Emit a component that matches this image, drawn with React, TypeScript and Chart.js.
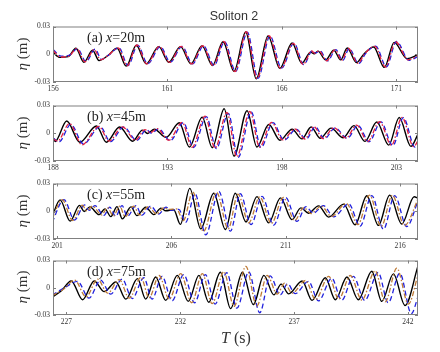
import React, { useEffect, useRef } from 'react';
import { Chart, registerables } from 'chart.js';
Chart.register(...registerables);

type Pt = [number, number];

const yTicks = [-0.03, 0, 0.03];

// Panel (a) x = 20 m
const aRange = [156, 171.95];
const aTicks = [156, 161, 166, 171];
const aBlack: Pt[] = [[156.0,0.002],[156.3,-0.0034],[156.67,-0.0026],[157.0,0.0065],[157.35,-0.0086],[157.73,0.0044],[158.01,-0.0068],[158.39,-0.0016],[158.8,0.0065],[159.2,-0.0128],[159.64,0.0097],[160.07,-0.0103],[160.62,0.0082],[161.06,-0.0086],[161.57,0.0082],[162.03,-0.0103],[162.51,0.009],[162.97,-0.0121],[163.43,0.0135],[163.91,-0.0184],[164.42,0.024],[164.88,-0.0265],[165.4,0.0198],[165.91,-0.0153],[166.45,0.0121],[166.87,-0.0097],[167.26,0.0023],[167.41,0.0005],[167.58,0.0034],[167.91,-0.0061],[168.27,0.0044],[168.57,-0.0061],[168.86,0.0068],[169.26,-0.009],[169.57,-0.0002],[170.01,0.0079],[170.48,-0.0142],[170.91,0.0128],[171.47,-0.0047],[171.95,-0.0005]];
const aRed: Pt[] = [[156.0,0.004],[156.33,-0.003],[156.7,-0.002],[157.03,0.0062],[157.4,-0.0082],[157.8,0.0052],[158.08,-0.006],[158.42,-0.001],[158.85,0.0068],[159.24,-0.0125],[159.67,0.01],[160.1,-0.0105],[160.65,0.0085],[161.09,-0.0088],[161.6,0.0085],[162.06,-0.0105],[162.54,0.0092],[163.0,-0.0124],[163.46,0.0138],[163.95,-0.0188],[164.45,0.0243],[164.92,-0.0262],[165.44,0.02],[165.95,-0.0155],[166.5,0.0118],[166.93,-0.011],[167.3,0.0035],[167.45,0.001],[167.62,0.0038],[167.96,-0.007],[168.32,0.0048],[168.62,-0.0066],[168.9,0.0065],[169.32,-0.0098],[169.62,0.0005],[170.06,0.0085],[170.53,-0.0138],[170.97,0.0135],[171.52,-0.006],[171.95,-0.0015]];
const aBlue: Pt[] = [[156.0,0.005],[156.36,-0.002],[156.72,-0.001],[157.07,0.006],[157.44,-0.008],[157.84,0.0055],[158.12,-0.0055],[158.45,-0.0005],[158.88,0.007],[159.28,-0.0122],[159.7,0.0098],[160.14,-0.0102],[160.69,0.0083],[161.13,-0.0085],[161.64,0.0085],[162.1,-0.0103],[162.58,0.009],[163.04,-0.012],[163.5,0.0135],[163.98,-0.0185],[164.49,0.0238],[164.96,-0.026],[165.48,0.0198],[165.99,-0.015],[166.53,0.012],[166.96,-0.0112],[167.33,0.0038],[167.48,0.0012],[167.66,0.004],[168.0,-0.0072],[168.36,0.005],[168.66,-0.0068],[168.94,0.0062],[169.36,-0.01],[169.66,0.0008],[170.1,0.0088],[170.57,-0.0135],[171.01,0.0138],[171.56,-0.0065],[171.95,-0.0025]];

// Panel (b) x = 45 m
const bRange = [188, 203.95];
const bTicks = [188, 193, 198, 203];
const bBlack: Pt[] = [[188.0,-0.004],[188.09,-0.009],[188.6,0.0132],[189.17,-0.0097],[189.9,0.0079],[190.33,-0.0097],[190.91,0.0068],[191.48,-0.0086],[191.91,0.0034],[192.13,-0.0002],[192.43,0.0044],[192.94,-0.0044],[193.52,0.0114],[193.96,-0.0149],[194.52,0.0174],[194.96,-0.0156],[195.48,0.0265],[195.91,-0.0247],[196.48,0.0244],[196.91,-0.0149],[197.43,0.0095],[197.92,-0.0075],[198.45,0.0044],[198.88,-0.0061],[199.28,0.0068],[199.68,-0.0054],[200.15,0.0055],[200.68,-0.0049],[201.15,0.0082],[201.63,-0.0088],[202.15,0.0121],[202.67,-0.0128],[203.13,0.017],[203.64,-0.0142],[203.95,-0.001]];
const bRed: Pt[] = [[188.0,-0.006],[188.2,-0.0085],[188.72,0.0105],[189.27,-0.0125],[190.0,0.0075],[190.45,-0.0085],[191.03,0.007],[191.6,-0.0075],[192.02,0.004],[192.25,0.0005],[192.55,0.005],[193.06,-0.0075],[193.64,0.0118],[194.08,-0.0152],[194.64,0.0185],[195.08,-0.016],[195.6,0.0225],[196.03,-0.0255],[196.6,0.0235],[197.03,-0.015],[197.55,0.0118],[198.04,-0.0072],[198.57,0.0048],[199.0,-0.0062],[199.4,0.0072],[199.8,-0.0058],[200.27,0.006],[200.8,-0.0052],[201.27,0.0088],[201.75,-0.009],[202.27,0.0125],[202.79,-0.013],[203.25,0.0172],[203.76,-0.0145],[203.95,-0.008]];
const bBlue: Pt[] = [[188.0,-0.005],[188.26,-0.0095],[188.78,0.0095],[189.33,-0.0115],[190.06,0.0072],[190.51,-0.009],[191.09,0.0068],[191.66,-0.0078],[192.08,0.0038],[192.31,0.0],[192.61,0.0048],[193.12,-0.008],[193.7,0.0115],[194.14,-0.0155],[194.7,0.018],[195.14,-0.0165],[195.66,0.0215],[196.09,-0.026],[196.66,0.023],[197.09,-0.0155],[197.61,0.0115],[198.1,-0.0075],[198.63,0.0045],[199.06,-0.0064],[199.46,0.007],[199.86,-0.006],[200.33,0.0058],[200.86,-0.0055],[201.33,0.0085],[201.81,-0.0092],[202.33,0.0122],[202.85,-0.0135],[203.31,0.0168],[203.82,-0.015],[203.95,-0.012]];

// Panel (c) x = 55 m
const cRange = [200.82, 216.78];
const cTicks = [201, 206, 211, 216];
const cBlack: Pt[] = [[200.77,-0.0065],[201.13,0.0123],[201.57,-0.0107],[201.98,0.0063],[202.18,-0.0002],[202.43,0.0047],[202.83,-0.0037],[203.09,0.0026],[203.35,-0.0058],[203.62,0.005],[203.85,-0.0082],[204.23,0.0047],[204.49,-0.0047],[204.87,0.0044],[205.23,-0.0037],[205.54,0.0034],[205.75,0.0005],[206.1,0.0016],[206.39,-0.0142],[206.8,0.0247],[207.28,-0.019],[207.85,0.0195],[208.36,-0.0198],[208.79,0.0195],[209.26,-0.0116],[209.74,0.0158],[210.25,-0.0126],[210.77,0.0145],[211.27,-0.009],[211.66,0.0037],[211.99,-0.0021],[212.43,0.0058],[212.87,-0.0063],[213.53,0.0077],[214.03,-0.0147],[214.54,0.0168],[215.05,-0.0153],[215.54,0.0174],[216.07,-0.0138],[216.61,0.0157],[216.78,0.0142]];
const cRed: Pt[] = [[200.78,-0.008],[201.22,0.0125],[201.68,-0.01],[202.1,0.0065],[202.3,0.0005],[202.55,0.0055],[202.95,-0.004],[203.2,0.004],[203.46,-0.005],[203.74,0.0055],[203.97,-0.006],[204.35,0.0055],[204.6,-0.004],[204.99,0.005],[205.35,-0.003],[205.66,0.004],[205.87,0.002],[206.22,0.0025],[206.52,-0.01],[206.93,0.021],[207.4,-0.022],[207.97,0.0205],[208.48,-0.019],[208.91,0.0185],[209.38,-0.0125],[209.86,0.0155],[210.37,-0.0132],[210.89,0.015],[211.39,-0.01],[211.78,0.004],[212.1,-0.0025],[212.55,0.0055],[212.99,-0.0055],[213.65,0.0085],[214.15,-0.0145],[214.66,0.0175],[215.17,-0.0165],[215.66,0.0172],[216.19,-0.0155],[216.78,0.013]];
const cBlue: Pt[] = [[200.78,-0.012],[201.3,0.0125],[201.76,-0.0095],[202.2,0.0068],[202.4,0.001],[202.65,0.006],[203.05,-0.0045],[203.3,0.0045],[203.56,-0.0055],[203.84,0.006],[204.07,-0.0055],[204.45,0.006],[204.7,-0.0045],[205.09,0.0055],[205.45,-0.003],[205.76,0.0045],[205.97,0.001],[206.32,0.002],[206.62,-0.012],[207.03,0.019],[207.5,-0.0255],[208.07,0.0215],[208.58,-0.0215],[209.01,0.019],[209.48,-0.0145],[209.96,0.016],[210.47,-0.015],[210.99,0.015],[211.49,-0.011],[211.88,0.005],[212.2,-0.002],[212.65,0.006],[213.09,-0.006],[213.75,0.008],[214.25,-0.016],[214.76,0.017],[215.27,-0.0195],[215.76,0.017],[216.29,-0.0165],[216.78,0.011]];

// Panel (d) x = 75 m
const dRange = [226.41, 242.44];
const dTicks = [227, 232, 237, 242];
const dBlack: Pt[] = [[226.37,-0.0104],[226.78,-0.0032],[227.21,0.0075],[227.71,-0.0132],[228.22,0.0075],[228.66,-0.0043],[229.17,0.0064],[229.61,-0.0125],[230.12,0.01],[230.48,-0.0125],[230.92,0.0118],[231.36,-0.0139],[231.87,0.0136],[232.35,-0.015],[232.82,0.0136],[233.25,-0.016],[233.76,0.0171],[234.21,-0.023],[234.73,0.0171],[235.21,-0.0185],[235.67,0.0136],[236.11,-0.0078],[236.43,0.004],[236.76,-0.0067],[237.35,0.0075],[237.79,-0.0139],[238.37,0.011],[238.81,-0.0132],[239.32,0.0118],[239.82,-0.0132],[240.41,0.0182],[240.85,-0.015],[241.36,0.0153],[241.87,-0.0196],[242.44,0.024]];
const dRed: Pt[] = [[226.37,-0.009],[226.9,-0.001],[227.36,0.0085],[227.86,-0.01],[228.37,0.0095],[228.81,-0.006],[229.32,0.009],[229.76,-0.0115],[230.27,0.0115],[230.63,-0.011],[231.07,0.0135],[231.51,-0.0125],[232.02,0.0155],[232.5,-0.0165],[232.97,0.0155],[233.4,-0.0175],[233.91,0.0175],[234.36,-0.0205],[234.88,0.0235],[235.36,-0.02],[235.82,0.0135],[236.26,-0.007],[236.58,0.005],[236.91,-0.006],[237.5,0.008],[237.94,-0.013],[238.52,0.0125],[238.96,-0.0125],[239.47,0.0135],[239.97,-0.0135],[240.56,0.0185],[241.0,-0.0155],[241.51,0.0215],[242.02,-0.018],[242.44,0.014]];
const dBlue: Pt[] = [[226.37,-0.008],[226.95,0.0005],[227.49,0.007],[227.99,-0.0115],[228.5,0.0085],[228.94,-0.007],[229.45,0.0095],[229.89,-0.012],[230.4,0.011],[230.76,-0.0125],[231.2,0.0125],[231.64,-0.0145],[232.15,0.0145],[232.63,-0.0165],[233.1,0.0145],[233.53,-0.018],[234.04,0.0165],[234.49,-0.0225],[235.01,0.0175],[235.49,-0.0275],[235.95,0.013],[236.39,-0.008],[236.71,0.0045],[237.04,-0.0065],[237.63,0.007],[238.07,-0.0145],[238.65,0.0105],[239.09,-0.0138],[239.6,0.0125],[240.1,-0.014],[240.69,0.0168],[241.13,-0.0165],[241.64,0.016],[242.15,-0.0285],[242.44,-0.01]];

const SERIF = '"Liberation Serif", "Times New Roman", serif';

const panels = [
  { tag: 'a', xm: '20', range: aRange, ticks: aTicks, black: aBlack, dash: aRed, blue: aBlue, dashColor: '#e3203f', top: 25, bottom: 82 },
  { tag: 'b', xm: '45', range: bRange, ticks: bTicks, black: bBlack, dash: bRed, blue: bBlue, dashColor: '#e3203f', top: 104, bottom: 161 },
  { tag: 'c', xm: '55', range: cRange, ticks: cTicks, black: cBlack, dash: cRed, blue: cBlue, dashColor: '#bd7a36', top: 182, bottom: 239 },
  { tag: 'd', xm: '75', range: dRange, ticks: dTicks, black: dBlack, dash: dRed, blue: dBlue, dashColor: '#bd7a36', top: 259, bottom: 315 },
];

const PAD_TOP = 6;
const XAXIS_H = 16;

const framePlugin = {
  id: 'frame',
  afterDatasetsDraw(chart: any) {
    const { ctx, chartArea, scales } = chart;
    const { left, right, top, bottom } = chartArea;
    ctx.save();
    ctx.strokeStyle = '#808080';
    ctx.lineWidth = 1;
    ctx.strokeRect(left + 0.5, top + 0.5, right - left - 1, bottom - top - 1);
    const L = 3;
    ctx.beginPath();
    scales.x.ticks.forEach((t: any) => {
      const px = Math.round(scales.x.getPixelForValue(t.value)) + 0.5;
      ctx.moveTo(px, bottom); ctx.lineTo(px, bottom - L);
      ctx.moveTo(px, top); ctx.lineTo(px, top + L);
    });
    scales.y.ticks.forEach((t: any) => {
      const py = Math.round(scales.y.getPixelForValue(t.value)) + 0.5;
      ctx.moveTo(left, py); ctx.lineTo(left + L, py);
      ctx.moveTo(right, py); ctx.lineTo(right - L, py);
    });
    ctx.stroke();
    ctx.restore();
  },
};

function Panel({ p }: { p: typeof panels[number] }) {
  const ref = useRef<HTMLCanvasElement | null>(null);
  useEffect(() => {
    if (!ref.current) return;
    const toXY = (arr: Pt[]) => arr.map(([x, y]) => ({ x, y }));
    const line = { pointRadius: 0, cubicInterpolationMode: 'monotone' as const, fill: false };
    const chart = new Chart(ref.current, {
      type: 'line',
      data: {
        datasets: [
          { ...line, data: toXY(p.dash), borderColor: p.dashColor, borderWidth: 1.3, borderDash: [5, 2, 1.5, 2], order: 0 },
          { ...line, data: toXY(p.blue), borderColor: '#2020dd', borderWidth: 1.3, borderDash: [5, 3], order: 1 },
          { ...line, data: toXY(p.black), borderColor: '#000000', borderWidth: 1.4, order: 2 },
        ],
      },
      options: {
        animation: false,
        responsive: false,
        devicePixelRatio: 1,
        layout: { padding: { top: PAD_TOP, right: 22, left: 0, bottom: 0 } },
        plugins: { legend: { display: false }, tooltip: { enabled: false } },
        scales: {
          x: {
            type: 'linear',
            min: p.range[0],
            max: p.range[1],
            grid: { display: false, drawTicks: false },
            border: { display: false },
            afterBuildTicks: (s: any) => { s.ticks = p.ticks.map((v) => ({ value: v })); },
            afterFit: (s: any) => { s.height = XAXIS_H; },
            ticks: {
              font: { family: SERIF, size: 7.5 },
              color: '#333',
              padding: 3,
              maxRotation: 0,
              autoSkip: false,
              callback: (v: any) => String(v),
            },
          },
          y: {
            type: 'linear',
            min: -0.03,
            max: 0.03,
            grid: { display: false, drawTicks: false },
            border: { display: false },
            afterBuildTicks: (s: any) => { s.ticks = yTicks.map((v) => ({ value: v })); },
            afterFit: (s: any) => { s.width = 53; },
            ticks: {
              font: { family: SERIF, size: 7.5 },
              color: '#333',
              padding: 3,
              autoSkip: false,
              callback: (v: any) => (Number(v) === 0 ? '0' : Number(v).toFixed(2)),
            },
          },
        },
      },
      plugins: [framePlugin],
    } as any);
    return () => chart.destroy();
  }, [p]);
  const h = p.bottom - p.top + PAD_TOP + XAXIS_H;
  return (
    <canvas
      ref={ref}
      width={440}
      height={h}
      style={{ position: 'absolute', left: 0, top: p.top - PAD_TOP, width: 440, height: h }}
    />
  );
}

export default function App() {
  return (
    <div style={{ position: 'absolute', left: 0, top: 0, width: 440, height: 352, background: '#fff', overflow: 'hidden' }}>
      {panels.map((p) => (
        <Panel key={p.tag} p={p} />
      ))}
      <div style={{ position: 'absolute', left: 184, top: 10, width: 100, textAlign: 'center', fontFamily: '"Liberation Sans", Arial, sans-serif', fontSize: 12.5, lineHeight: '13px', color: '#333' }}>
        Soliton 2
      </div>
      {panels.map((p) => (
        <div key={'l' + p.tag} style={{ position: 'absolute', left: 87, top: p.top + 6, fontFamily: SERIF, fontSize: 14, lineHeight: '14px', color: '#222', whiteSpace: 'nowrap' }}>
          ({p.tag}) <i>x</i>={p.xm}m
        </div>
      ))}
      {panels.map((p) => (
        <div key={'y' + p.tag} style={{ position: 'absolute', left: 22, top: (p.top + p.bottom) / 2, transform: 'translate(-50%, -50%) rotate(-90deg)', fontFamily: SERIF, fontSize: 15, lineHeight: '15px', color: '#333', whiteSpace: 'nowrap' }}>
          <i>η</i> (m)
        </div>
      ))}
      <div style={{ position: 'absolute', left: 186, top: 330, width: 100, textAlign: 'center', fontFamily: SERIF, fontSize: 16, lineHeight: '16px', color: '#333' }}>
        <i>T</i> (s)
      </div>
    </div>
  );
}
